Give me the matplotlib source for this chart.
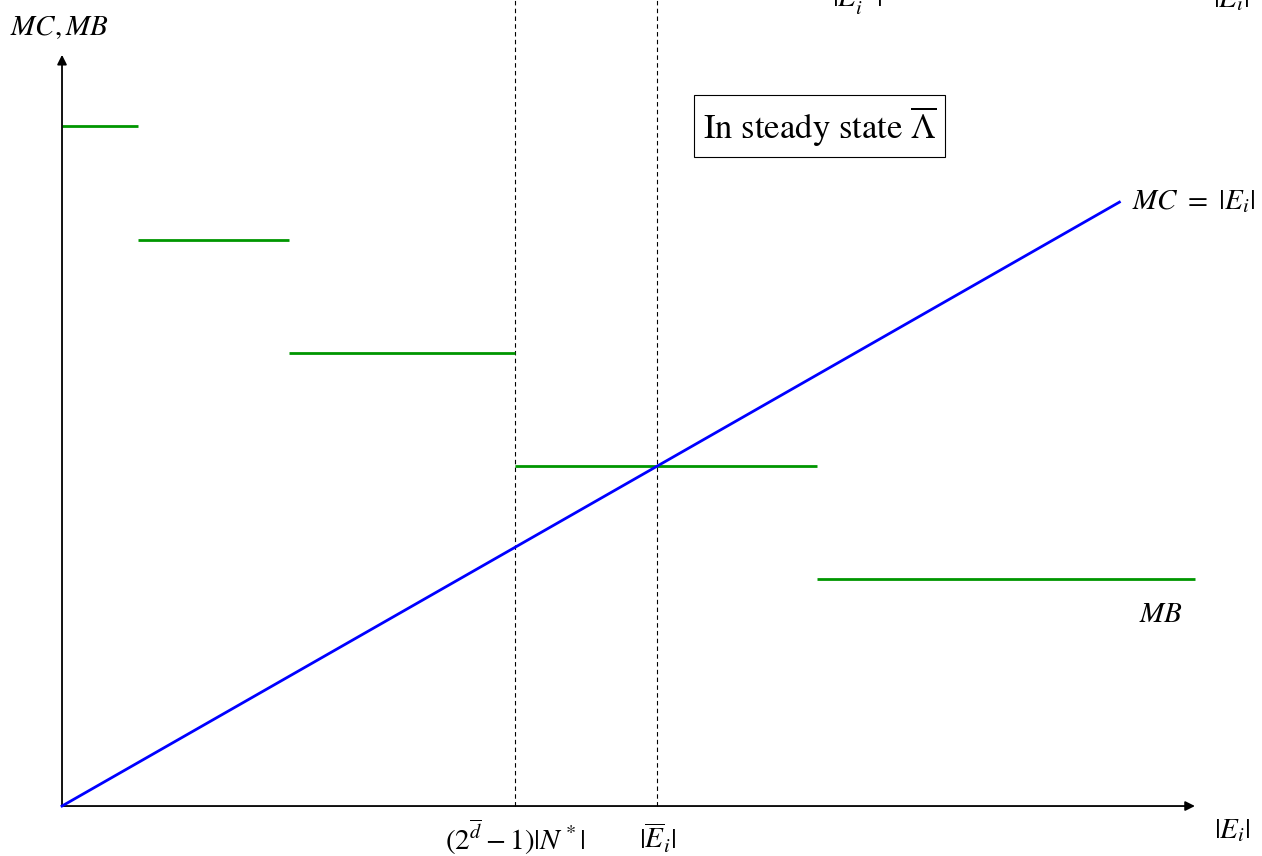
import matplotlib
matplotlib.use("Agg")
import matplotlib.pyplot as plt

plt.rcParams['mathtext.fontset'] = 'stix'
plt.rcParams['font.family'] = 'STIXGeneral'

# marginal benefit steps (x start, x end, level)
mb_x0 = [0, 1, 3, 6, 10]
mb_x1 = [1, 3, 6, 10, 15]
mb_y = [6, 5, 4, 3, 2]

# marginal cost line
mc_x = [0, 14]
mc_y = [0, 5.33]

x_max = 15
y_max = 6.63
n_star = 6        # (2^d - 1)|N*|
e_bar = 7.88      # equilibrium |E_i|

fig = plt.figure(figsize=(12.62, 8.56), dpi=100)
ax = fig.add_axes([0, 0, 1, 1])
ax.set_xlim(-0.821, 15.888)
ax.set_ylim(-0.441, 7.114)
ax.axis('off')

green = '#009600'

for a, b, y in zip(mb_x0, mb_x1, mb_y):
    ax.plot([a, b], [y, y], color=green, lw=2.0, solid_capstyle='butt', zorder=3)

ax.plot(mc_x, mc_y, color='blue', lw=2.0, zorder=4)

# dashed guides
for xv in [n_star, e_bar]:
    ax.plot([xv, xv], [0, 7.2], color='black', lw=0.8, ls=(0, (4, 3)), zorder=1)

# axes with arrows
ax.annotate('', xy=(x_max, 0), xytext=(0, 0),
            arrowprops=dict(arrowstyle='-|>', color='black', lw=1.3, mutation_scale=14, shrinkA=0, shrinkB=0))
ax.annotate('', xy=(0, y_max), xytext=(0, 0),
            arrowprops=dict(arrowstyle='-|>', color='black', lw=1.3, mutation_scale=14, shrinkA=0, shrinkB=0))

fs = 21
ax.text(-0.69, 6.87, r'$MC, MB$', fontsize=fs, ha='left', va='center')
ax.text(15.5, -0.22, r'$|E_i|$', fontsize=fs, ha='center', va='center')
ax.text(n_star, -0.28, r'$(2^{\overline{d}}-1)|N^*|$', fontsize=fs, ha='center', va='center')
ax.text(e_bar, -0.28, r'$|\overline{E}_i|$', fontsize=fs, ha='center', va='center')
ax.text(14.17, 5.33, r'$MC\ =\ |E_i|$', fontsize=fs, ha='left', va='center')
ax.text(14.55, 1.68, r'$MB$', fontsize=fs, ha='center', va='center')

# labels cut off at the top edge
ax.text(10.53, 7.12, r'$|E_i^*|$', fontsize=fs, ha='center', va='center')
ax.text(15.48, 7.12, r'$|E_i|$', fontsize=fs, ha='center', va='center')

ax.text(10.03, 6.0, r'In steady state $\overline{\Lambda}$', fontsize=25, ha='center', va='center',
        bbox=dict(boxstyle='square,pad=0.25', fc='white', ec='black', lw=0.8))

fig.savefig('out.png', dpi=100)
